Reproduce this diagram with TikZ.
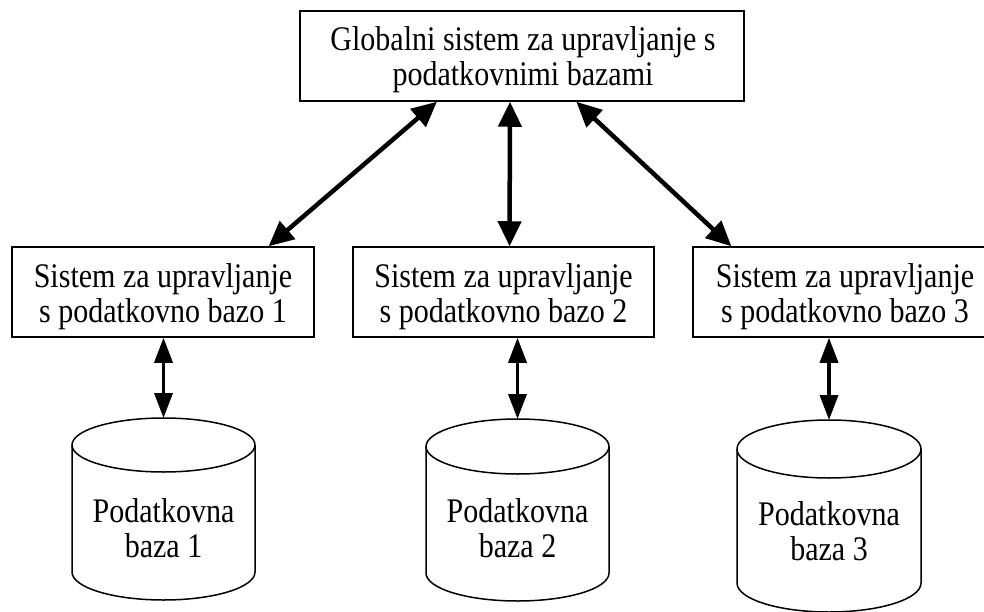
\documentclass[tikz,border=0pt]{standalone}
\usepackage{fontspec}
\setmainfont{Liberation Serif}[FakeStretch=0.87]
\usetikzlibrary{arrows.meta,calc}

\tikzset{
  box/.style={draw, line width=1.5pt, inner sep=0pt, minimum height=90pt},
  label/.style={inner sep=0pt, align=center, font=\fontsize{34.5}{35}\selectfont},
  cyl/.style={draw, line width=1.5pt},
  bigarrow/.style={line width=4.5pt,
    {Triangle[length=25pt,width=23pt]}-{Triangle[length=25pt,width=23pt]}},
  smallarrow/.style={line width=3.5pt,
    {Triangle[length=25pt,width=18pt]}-{Triangle[length=25pt,width=18pt]}}
}

\begin{document}
\begin{tikzpicture}[x=1pt, y=-1pt]
  \useasboundingbox (0,0) rectangle (984,612);

  % global DBMS
  \node[box, minimum width=444pt] (glob) at (522,56) {};
  \node[label] (globt) at (523,59.5)
    {Globalni sistem za upravljanje s\\ podatkovnimi bazami};

  % local DBMS boxes
  \node[box, minimum width=302pt] (sys1) at (163,292) {};
  \node[label] (sys1t) at (163,296.5) {Sistem za upravljanje\\ s podatkovno bazo 1};
  \node[box, minimum width=301pt] (sys2) at (503.5,292) {};
  \node[label] (sys2t) at (503.5,296.5) {Sistem za upravljanje\\ s podatkovno bazo 2};
  \node[box, minimum width=304pt] (sys3) at (845,292) {};
  \node[label] (sys3t) at (845,296.5) {Sistem za upravljanje\\ s podatkovno bazo 3};

  % databases (cylinders)
  \draw[cyl] (72,445) -- (72,572)
    arc[start angle=180, end angle=360, x radius=91.5pt, y radius=28pt] -- (255,445);
  \draw[cyl] (163.5,445) ellipse[x radius=91.5pt, y radius=27pt];
  \coordinate (db1) at (163.5,418);
  \node[label] (db1t) at (163.5,528.5) {Podatkovna\\ baza 1};

  \draw[cyl] (426,446.5) -- (426,573)
    arc[start angle=180, end angle=360, x radius=91.5pt, y radius=28pt] -- (609,446.5);
  \draw[cyl] (517.5,446.5) ellipse[x radius=91.5pt, y radius=27.5pt];
  \coordinate (db2) at (517.5,419);
  \node[label] (db2t) at (517.5,528.5) {Podatkovna\\ baza 2};

  \draw[cyl] (737,449) -- (737,583)
    arc[start angle=180, end angle=360, x radius=92pt, y radius=29pt] -- (921,449);
  \draw[cyl] (829,449) ellipse[x radius=92pt, y radius=29pt];
  \coordinate (db3) at (829,420);
  \node[label] (db3t) at (829,531) {Podatkovna\\ baza 3};

  % connectors between global and local systems
  \draw[bigarrow] ($(glob.south west)!0.309!(glob.south east)$)
    -- ($(sys1.north west)!0.848!(sys1.north east)$);
  \draw[bigarrow] ($(glob.south west)!0.473!(glob.south east)$)
    -- ($(sys2.north west)!0.52!(sys2.north east)$);
  \draw[bigarrow] ($(glob.south west)!0.622!(glob.south east)$)
    -- ($(sys3.north west)!0.128!(sys3.north east)$);

  % connectors between local systems and databases
  \draw[smallarrow] (sys1.south -| db1) -- (db1);
  \draw[smallarrow] (sys2.south -| db2) -- (db2);
  \draw[smallarrow] (sys3.south -| db3) -- (db3);
\end{tikzpicture}
\end{document}
